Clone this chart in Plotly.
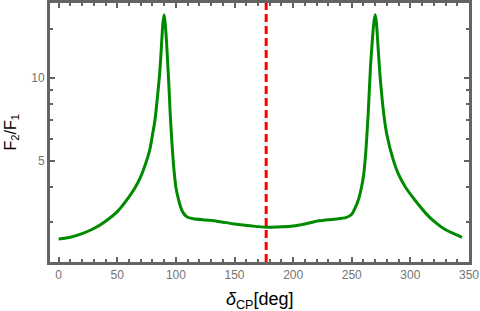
import plotly.graph_objects as go

# delta_CP [deg]
delta_cp = [0, 10, 20, 30, 40, 50, 60, 65, 70, 75, 78, 80, 82, 84, 86, 87, 88, 89, 90,
            91, 92, 93, 94, 95, 96, 97, 98, 99, 100, 102, 104, 106, 108, 110, 115, 125,
            135, 150, 165, 177, 190, 200, 210, 222, 235, 245, 250, 253, 256, 258, 260,
            262, 264, 266, 268, 269, 270, 271, 272, 274, 276, 278, 280, 285, 290, 296,
            305, 313, 320, 330, 337, 344]
# F2/F1
ratio = [2.60, 2.64, 2.72, 2.84, 3.02, 3.27, 3.70, 3.98, 4.38, 5.0, 5.55, 6.2, 6.95, 8.3,
         10.2, 11.7, 13.8, 15.9, 16.9,
         15.5, 13.5, 11.3, 9.4, 7.6, 6.4, 5.5, 4.8, 4.35, 4.0, 3.65, 3.40, 3.25, 3.17,
         3.12, 3.08, 3.05, 3.02, 2.95, 2.90, 2.87, 2.88, 2.90, 2.95, 3.03, 3.07, 3.11,
         3.2, 3.38, 3.65, 3.95, 4.4, 5.4, 7.4, 11.0, 14.5, 16.0, 16.9, 15.9, 13.8, 10.3,
         8.3, 7.0, 6.2, 5.1, 4.45, 4.0, 3.55, 3.23, 3.02, 2.81, 2.72, 2.64]

marker_delta = 177

x_major = [0, 50, 100, 150, 200, 250, 300, 350]
x_minor = [v for v in range(-10, 360, 10)]
y_major = [5, 10]
y_minor = [3, 4, 6, 7, 8, 9, 15]

frame_color = "#646464"
label_color = "#747474"

fig = go.Figure()
fig.add_trace(go.Scatter(x=delta_cp, y=ratio, mode="lines",
                         line=dict(color="#008a00", width=3, shape="spline", smoothing=0.6),
                         showlegend=False))
fig.add_shape(type="line", x0=marker_delta, x1=marker_delta, xref="x", yref="paper",
              y0=0, y1=1, line=dict(color="#ff0000", width=3, dash="8px,4px"))

fig.update_layout(
    width=480, height=311,
    margin=dict(l=50, r=11, t=3, b=49, autoexpand=False),
    plot_bgcolor="white", paper_bgcolor="white",
    font=dict(family="Liberation Sans, Arial, sans-serif"),
    xaxis=dict(
        range=[-7.4, 350], showgrid=False, zeroline=False, automargin=False,
        showline=True, linecolor=frame_color, linewidth=3, mirror="allticks",
        ticks="inside", ticklen=5, tickwidth=2, tickcolor=frame_color,
        tickmode="array", tickvals=x_major, ticktext=[str(v) for v in x_major],
        tickfont=dict(size=12, color=label_color),
        minor=dict(tickmode="array", tickvals=x_minor, ticks="inside", ticklen=3,
                   tickwidth=1.5, tickcolor=frame_color),
    ),
    yaxis=dict(
        type="log", range=[0.332, 1.2707], showgrid=False, zeroline=False, automargin=False,
        showline=True, linecolor=frame_color, linewidth=3, mirror="allticks",
        ticks="inside", ticklen=5, tickwidth=2, tickcolor=frame_color,
        tickmode="array", tickvals=y_major, ticktext=[str(v) for v in y_major],
        tickfont=dict(size=12, color=label_color),
        minor=dict(tickmode="array", tickvals=y_minor, ticks="inside", ticklen=3,
                   tickwidth=1.5, tickcolor=frame_color),
    ),
    annotations=[
        dict(text="<i>δ</i><sub>CP</sub>[deg]", xref="paper", yref="paper",
             x=0.5, y=-0.147, xanchor="center", yanchor="middle", showarrow=False,
             font=dict(size=18, color="black")),
        dict(text="F<sub>2</sub>/F<sub>1</sub>", xref="paper", yref="paper",
             x=-0.093, y=0.5, xanchor="center", yanchor="middle", showarrow=False,
             textangle=-90, font=dict(size=16, color="black")),
    ],
)

fig.write_html("out.html", config={"displayModeBar": False},
               post_script="document.body.style.margin='0';document.body.style.overflow='hidden';")
